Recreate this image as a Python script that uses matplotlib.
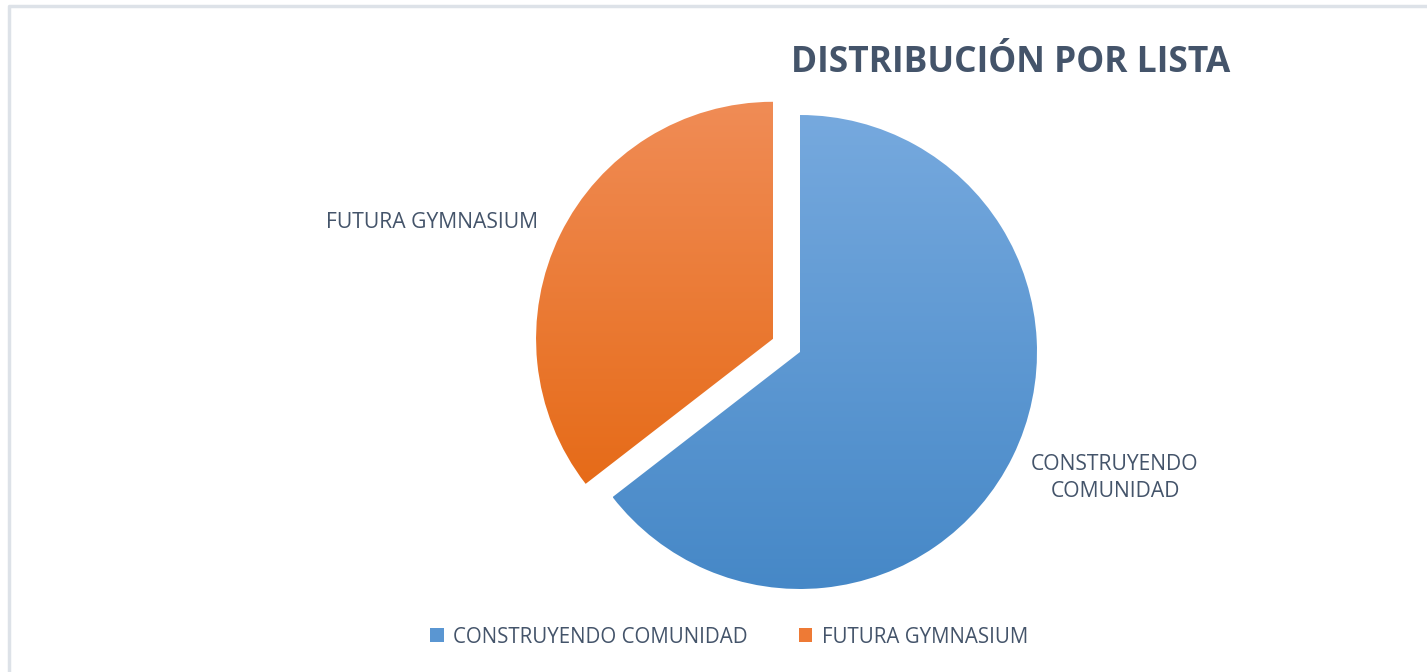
import numpy as np
import matplotlib.pyplot as plt
from matplotlib.patches import Patch
from matplotlib.colors import LinearSegmentedColormap

# datos
listas = ["CONSTRUYENDO COMUNIDAD", "FUTURA GYMNASIUM"]
votos = [20, 11]
etiquetas = ["CONSTRUYENDO\nCOMUNIDAD", "FUTURA GYMNASIUM"]
titulo = "DISTRIBUCIÓN POR LISTA"

col_top = ["#76A9DE", "#F08C56"]
col_bot = ["#4688C7", "#E66B18"]
texto = "#44546A"

plt.rcParams['font.family'] = ['Open Sans', 'DejaVu Sans']

fig = plt.figure(figsize=(14.27, 6.72), dpi=100)
ax = fig.add_axes([0, 0, 1, 1])

# borde (solo arriba e izquierda visibles)
ax.plot([8.5, 8.5, 1427], [0, 666, 666], color="#dde2e8", lw=2.5, solid_capstyle='butt')

# explode va en unidades de datos (pixeles aqui)
wedges, _ = ax.pie(votos, startangle=90, counterclock=False,
                   center=(800, 320), radius=237, explode=[0, 30],
                   frame=True)
ax.set_xlim(0, 1427)
ax.set_ylim(0, 672)
ax.set_aspect('auto')
ax.axis('off')

grad = np.linspace(1, 0, 256).reshape(-1, 1)
for w, ct, cb in zip(wedges, col_top, col_bot):
    w.set_facecolor('none')
    w.set_edgecolor('none')
    x0, y0, x1, y1 = w.get_path().get_extents(w.get_patch_transform()).extents
    cmap = LinearSegmentedColormap.from_list('g', [cb, ct])
    im = ax.imshow(grad, cmap=cmap, extent=[x0, x1, y0, y1], origin='upper',
                   aspect='auto', zorder=1, vmin=0, vmax=1)
    im.set_clip_path(w)

ax.set_xlim(0, 1427)
ax.set_ylim(0, 672)

ax.text(1011, 672 - 63, titulo, ha='center', va='center', fontsize=25.5,
        fontweight='bold', color=texto)
ax.text(432, 672 - 222, etiquetas[1], ha='center', va='center', fontsize=15.2, color=texto)
ax.text(1115, 672 - 478, etiquetas[0], ha='center', va='center', fontsize=15.2,
        color=texto, linespacing=1.38)

handles = [Patch(facecolor=c) for c in ["#5A96D2", "#EE7A35"]]
fig.legend(handles, listas, loc='center', bbox_to_anchor=(0.511, 0.052), ncol=2,
           frameon=False, fontsize=14.8, labelcolor=texto, handlelength=0.65,
           handleheight=0.65, handletextpad=0.45, columnspacing=2.5)

fig.savefig("out.png", dpi=100)
